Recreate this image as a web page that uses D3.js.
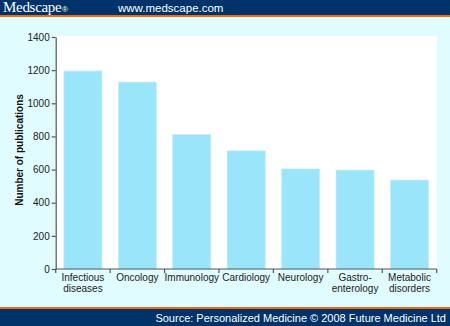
<!DOCTYPE html>
<meta charset="utf-8">
<html>
<head>
  <title>Publications by area</title>
  <script src="https://cdn.jsdelivr.net/npm/d3@7"></script>
</head>
<style>
  body { margin: 0; background-color: #e0fcfe; }
  svg { display: block; }
</style>
<body>
</body>
<script>

  // chart data
  var categories = [
    ["Infectious", "diseases"],
    ["Oncology"],
    ["Immunology"],
    ["Cardiology"],
    ["Neurology"],
    ["Gastro-", "enterology"],
    ["Metabolic", "disorders"]
  ];
  var publications = [1195, 1128, 812, 713, 604, 597, 537];
  var yTicks = [0, 200, 400, 600, 800, 1000, 1200, 1400];

  var W = 450, H = 326;
  var pLeft = 55.7, pRight = 436.7, pTop = 37, pBottom = 269;

  var svg = d3.select("body").append("svg")
      .attr("width", W)
      .attr("height", H);

  // background
  svg.append("rect").attr("width", W).attr("height", H).attr("fill", "#e0fcfe");

  // header
  svg.append("rect").attr("width", W).attr("height", 15).attr("fill", "#00336a");
  svg.append("rect").attr("y", 15).attr("width", W).attr("height", 2).attr("fill", "#f26a10");
  svg.append("text")
      .attr("x", 3).attr("y", 12)
      .attr("font-family", "Liberation Serif")
      .attr("font-size", 15)
      .attr("letter-spacing", -0.3)
      .attr("fill", "white")
      .text("Medscape");
  svg.append("text")
      .attr("x", 62).attr("y", 12)
      .attr("font-family", "Liberation Sans")
      .attr("font-size", 8)
      .attr("fill", "white")
      .text("®");
  svg.append("text")
      .attr("x", 118).attr("y", 12)
      .attr("font-family", "Liberation Sans")
      .attr("font-size", 11.5)
      .attr("fill", "white")
      .text("www.medscape.com");

  // footer
  svg.append("rect").attr("y", 307).attr("width", W).attr("height", 2).attr("fill", "#f26a10");
  svg.append("rect").attr("y", 309).attr("width", W).attr("height", H - 309).attr("fill", "#00336a");
  svg.append("text")
      .attr("x", 446).attr("y", 322)
      .attr("text-anchor", "end")
      .attr("font-family", "Liberation Sans")
      .attr("font-size", 11)
      .attr("fill", "white")
      .text("Source: Personalized Medicine \u00a9 2008 Future Medicine Ltd");

  // plot area
  svg.append("rect")
      .attr("x", pLeft).attr("y", 36)
      .attr("width", pRight - pLeft).attr("height", pBottom - 36)
      .attr("fill", "white");

  var x = d3.scaleBand()
      .domain(d3.range(categories.length))
      .range([pLeft, pRight])
      .paddingInner(0.3)
      .paddingOuter(0.15);

  var y = d3.scaleLinear()
      .domain([0, 1400])
      .range([pBottom, pTop]);

  svg.selectAll("rect.bar")
      .data(publications)
      .enter()
        .append("rect")
        .attr("class", "bar")
        .attr("x", function(d, i) { return x(i); })
        .attr("width", x.bandwidth())
        .attr("y", function(d) { return y(d); })
        .attr("height", function(d) { return pBottom - y(d); })
        .attr("fill", "#9be5fb")
        .attr("stroke", "#c4f0fd")
        .attr("stroke-width", 0.6);

  // y axis
  var yAxis = svg.append("g")
      .attr("transform", "translate(" + pLeft + ",0)")
      .call(d3.axisLeft(y).tickValues(yTicks).tickFormat(d3.format("d"))
        .tickSize(4).tickPadding(2).tickSizeOuter(0));
  yAxis.selectAll("text")
      .attr("font-family", "Liberation Sans")
      .attr("font-size", 10)
      .attr("fill", "#222");
  yAxis.selectAll("line, path").attr("stroke", "#555").attr("stroke-width", 1.2);

  // x axis: ticks at band edges
  var edges = d3.range(categories.length + 1).map(function(i) {
    return pLeft + i * x.step();
  });
  var xAxis = svg.append("g");
  xAxis.append("line")
      .attr("x1", pLeft).attr("x2", pRight)
      .attr("y1", pBottom).attr("y2", pBottom)
      .attr("stroke", "#555").attr("stroke-width", 1.2);
  xAxis.selectAll("line.tick")
      .data(edges)
      .enter()
        .append("line")
        .attr("class", "tick")
        .attr("x1", function(d) { return d; })
        .attr("x2", function(d) { return d; })
        .attr("y1", pBottom)
        .attr("y2", pBottom + 4)
        .attr("stroke", "#555").attr("stroke-width", 1.2);

  var labels = xAxis.selectAll("text")
      .data(categories)
      .enter()
        .append("text")
        .attr("font-family", "Liberation Sans")
        .attr("font-size", 10)
        .attr("fill", "#222")
        .attr("text-anchor", "middle")
        .attr("x", function(d, i) { return x(i) + x.bandwidth() / 2; })
        .attr("y", 281);
  labels.selectAll("tspan")
      .data(function(d) { return d; })
      .enter()
        .append("tspan")
        .attr("x", function() { return d3.select(this.parentNode).attr("x"); })
        .attr("dy", function(d, i) { return i === 0 ? 0 : 11; })
        .text(function(d) { return d; });

  // y label
  svg.append("text")
      .attr("transform", "translate(23,150) rotate(-90)")
      .attr("text-anchor", "middle")
      .attr("font-family", "Liberation Sans")
      .attr("font-size", 10)
      .attr("font-weight", "bold")
      .attr("fill", "#111")
      .text("Number of publications");

</script>
</html>
